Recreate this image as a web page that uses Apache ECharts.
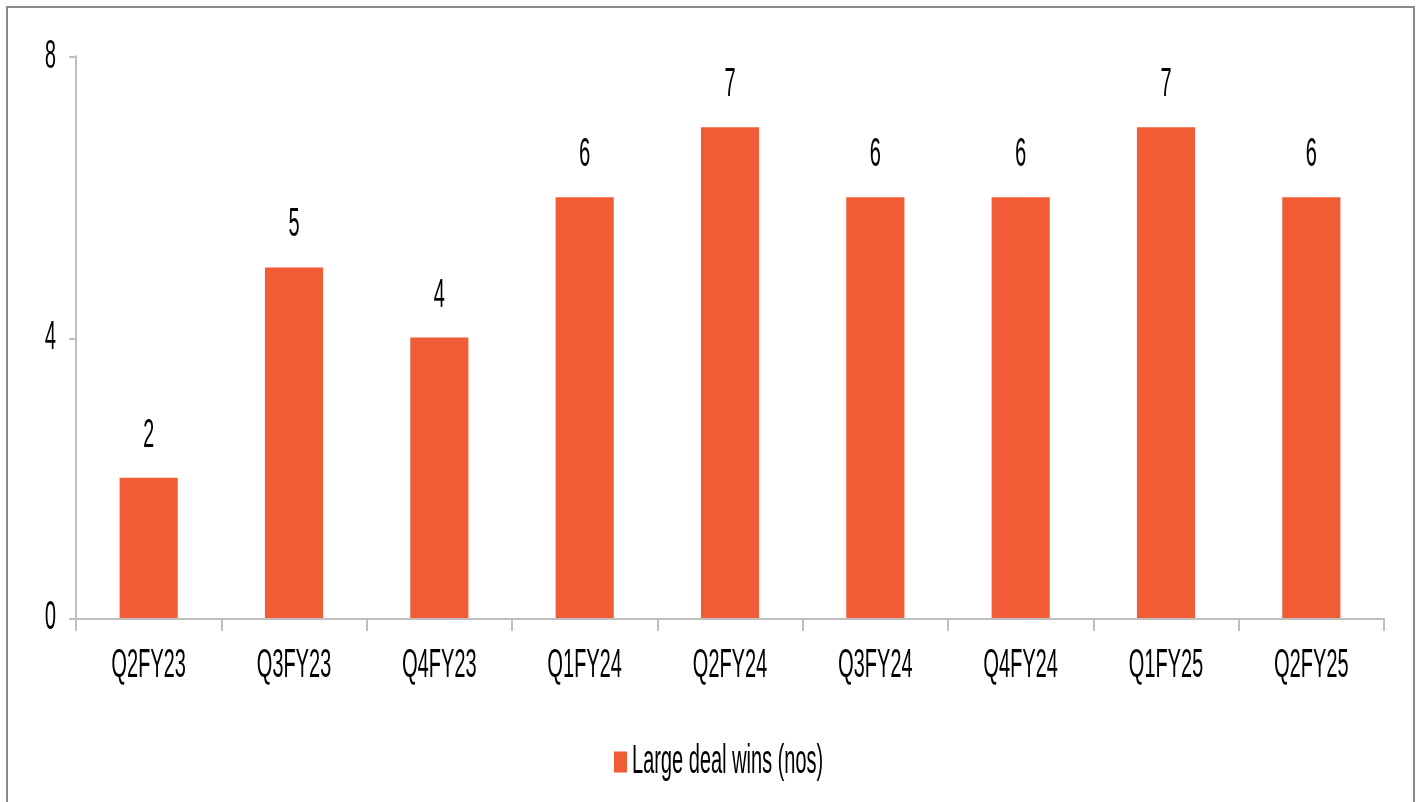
<!DOCTYPE html>
<html>
<head>
<meta charset="utf-8">
<script src="https://cdn.jsdelivr.net/npm/echarts@6/dist/echarts.min.js"></script>
<style>
  html, body { margin: 0; padding: 0; background: #fff; overflow: hidden; }
  #frame {
    position: absolute; left: 6px; top: 6px; width: 1405px; height: 800px;
    border-left: 2px solid #8a8a8a; border-top: 2px solid #8a8a8a; border-right: 2px solid #8a8a8a;
  }
  /* the source picture is stretched tall, so draw at half height and scale up */
  #dealChart {
    position: absolute; left: 0; top: 0; width: 1417px; height: 401px;
    transform: scaleY(2); transform-origin: 0 0;
  }
</style>
</head>
<body>
<div id="frame"></div>
<div id="dealChart"></div>
<script>
const categories = ['Q2FY23', 'Q3FY23', 'Q4FY23', 'Q1FY24', 'Q2FY24', 'Q3FY24', 'Q4FY24', 'Q1FY25', 'Q2FY25']
const dealWins = [2, 5, 4, 6, 7, 6, 6, 7, 6]
const yTicks = { min: 0, max: 8, interval: 4 }
const seriesName = 'Large deal wins (nos)'

const font = "'Liberation Sans', Arial, sans-serif"
const chart = echarts.init(document.getElementById('dealChart'), null, { devicePixelRatio: 2 })

const option = {
  animation: false,
  backgroundColor: 'transparent',
  textStyle: { fontFamily: font },
  grid: { left: 76, right: 33, top: 28.5, bottom: 92 },
  legend: {
    bottom: 10,
    left: 614,
    padding: 0,
    itemWidth: 13,
    itemHeight: 10.5,
    icon: 'rect',
    textStyle: { fontFamily: font, fontSize: 20, color: '#000' },
    data: [seriesName],
  },
  xAxis: {
    type: 'category',
    data: categories,
    axisLine: { lineStyle: { color: '#bfbfbf', width: 1 } },
    axisTick: { show: true, length: 6.5, lineStyle: { color: '#bfbfbf', width: 2 } },
    axisLabel: { color: '#000', fontSize: 20, margin: 14, fontFamily: font },
  },
  yAxis: {
    type: 'value',
    min: yTicks.min,
    max: yTicks.max,
    interval: yTicks.interval,
    splitLine: { show: false },
    axisLine: { show: true, lineStyle: { color: '#bfbfbf', width: 2 } },
    axisTick: { show: true, length: 7, lineStyle: { color: '#bfbfbf', width: 1 } },
    axisLabel: { color: '#000', fontSize: 20, margin: 20, fontFamily: font },
  },
  series: [
    {
      name: seriesName,
      type: 'bar',
      data: dealWins,
      barCategoryGap: '60%',
      itemStyle: { color: '#f15b35' },
      label: {
        show: true,
        position: 'top',
        distance: 11,
        color: '#000',
        fontSize: 20,
        fontFamily: font,
      },
    },
  ],
}

option && chart.setOption(option)
</script>
</body>
</html>
